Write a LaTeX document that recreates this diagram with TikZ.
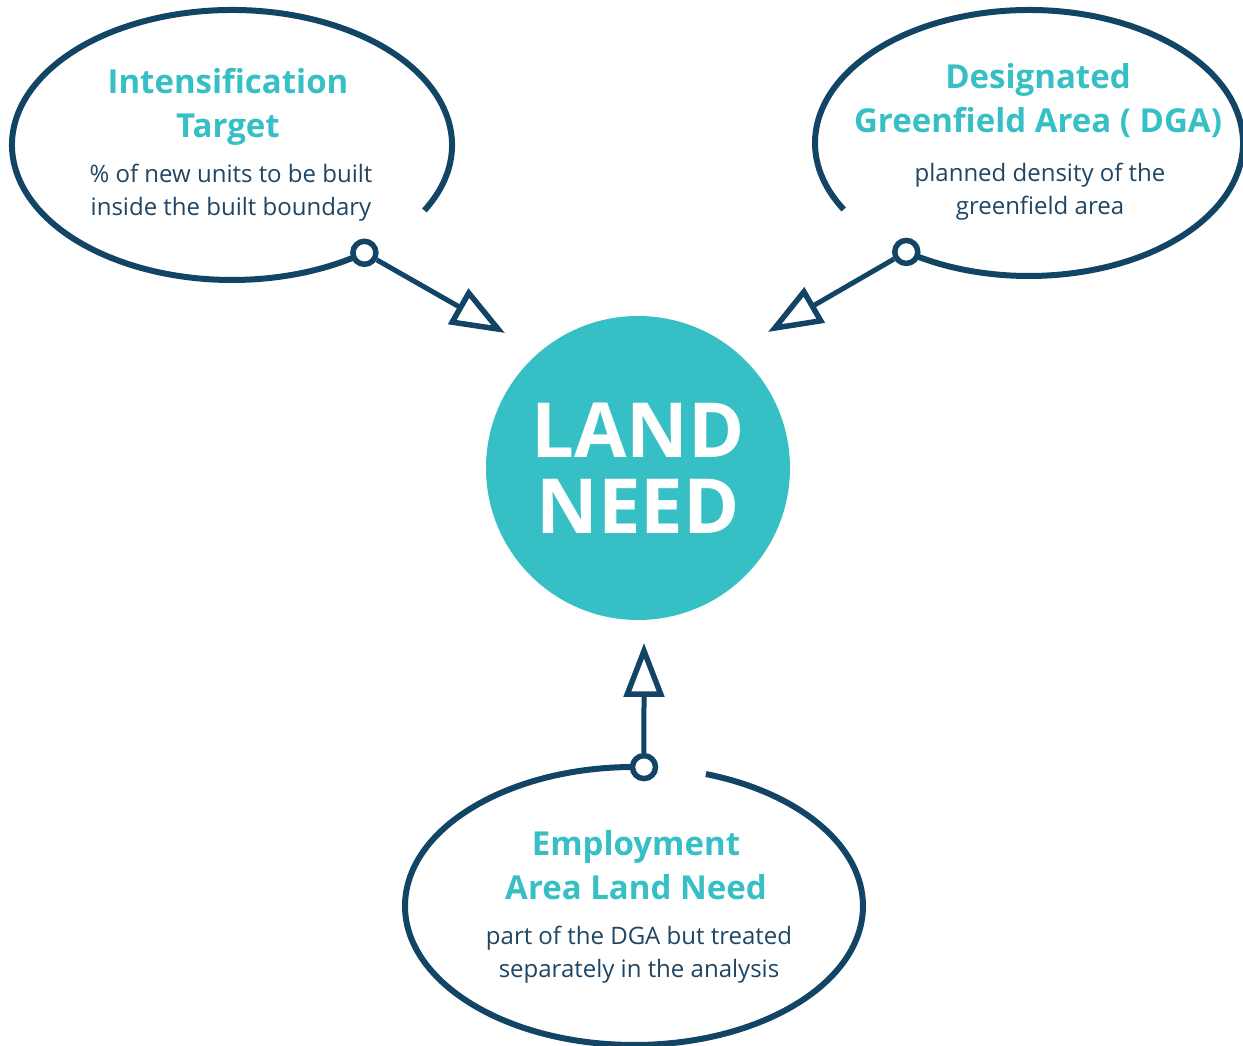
\documentclass[tikz,border=0pt]{standalone}
\usepackage{fontspec}
\setmainfont{Open Sans}
\usetikzlibrary{arrows.meta,calc}
\definecolor{teal1}{HTML}{36BFC4}
\definecolor{navy}{HTML}{124466}
\definecolor{bodytxt}{HTML}{1E4563}
\begin{document}
\begin{tikzpicture}[x=1pt,y=1pt,
  ell/.style={draw=navy,line width=6pt},
  marker/.style={circle,draw=navy,fill=white,line width=5.5pt,minimum size=23pt,inner sep=0pt},
  link/.style={draw=navy,line width=5pt,-{Triangle[open,length=54pt,width=40pt,line width=5.5pt]}},
  ttl/.style={text=teal1,font=\fontsize{33}{44}\selectfont\bfseries,align=center},
  bdy/.style={text=bodytxt,font=\fontsize{24}{33}\selectfont,align=center},
  hub/.style={circle,fill=teal1,minimum size=304pt,inner sep=0pt,text=white,align=center,font=\fontsize{76}{78}\selectfont\bfseries}]
\useasboundingbox (0,0) rectangle (1243,1046);
% centres
\coordinate (c1) at (232,901);
\coordinate (c2) at (1029,903);
\coordinate (c3) at (634,140);
% hub
\node[hub] (hub) at (638,578) {LAND\\[-2pt]NEED};
% ellipses
\draw[ell] ($(c1)+(-29:220 and 135)$) arc[start angle=-29,end angle=307,x radius=220,y radius=135];
\draw[ell] ($(c2)+(235:214 and 133)$) arc[start angle=235,end angle=570,x radius=214,y radius=133];
\draw[ell] ($(c3)+(87.5:229 and 139)$) arc[start angle=87.5,end angle=431.7,x radius=229,y radius=139];
% arrow tips
\coordinate (t1) at (505,713);
\coordinate (t2) at (768,714);
\coordinate (t3) at (644,403);
% markers
\node[marker] (m1) at ($(c1)+(307:220 and 135)$) {};
\node[marker] (m2) at ($(c2)+(235:214 and 133)$) {};
\node[marker] (m3) at ($(c3)+(87.5:229 and 139)$) {};
\draw[link] (m1) -- (t1);
\draw[link] (m2) -- (t2);
\draw[link] (m3) -- (t3);
% texts
\node[ttl] (ti1) at (228,939) {Intensification\\Target};
\node[bdy] (b1) at (231,853) {\% of new units to be built\\inside the built boundary};
\node[ttl] (ti2) at (1038,945) {Designated\\Greenfield Area ( DGA)};
\node[bdy] (b2) at (1040,854) {planned density of the\\greenfield area};
\node[ttl] (ti3) at (636,181) {Employment\\Area Land Need};
\node[bdy] (b3) at (639,91) {part of the DGA but treated\\separately in the analysis};
\end{tikzpicture}
\end{document}
